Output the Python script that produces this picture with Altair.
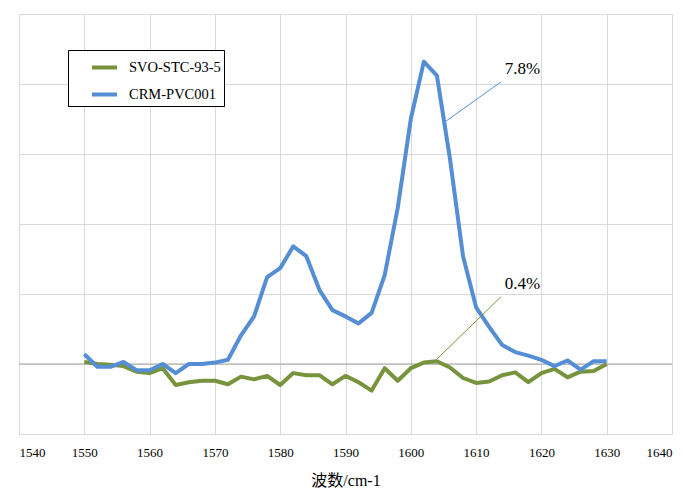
import altair as alt
import pandas as pd

# ---- data ----
wavenumber = [1550, 1552, 1554, 1556, 1558, 1560, 1562, 1564, 1566, 1568,
              1570, 1572, 1574, 1576, 1578, 1580, 1582, 1584, 1586, 1588,
              1590, 1592, 1594, 1596, 1598, 1600, 1602, 1604, 1606, 1608,
              1610, 1612, 1614, 1616, 1618, 1620, 1622, 1624, 1626, 1628, 1630]

svo_values = [0.03, 0.0, -0.01, -0.03, -0.11, -0.13, -0.06, -0.30, -0.26, -0.24,
              -0.24, -0.29, -0.18, -0.22, -0.17, -0.30, -0.13, -0.16, -0.16, -0.29,
              -0.17, -0.26, -0.38, -0.06, -0.24, -0.06, 0.02, 0.04, -0.05, -0.20,
              -0.27, -0.25, -0.16, -0.12, -0.26, -0.13, -0.07, -0.19, -0.11, -0.10, 0.0]

crm_values = [0.14, -0.04, -0.04, 0.03, -0.09, -0.09, 0.0, -0.13, 0.0, 0.0,
              0.02, 0.06, 0.41, 0.68, 1.24, 1.37, 1.68, 1.54, 1.06, 0.77,
              0.68, 0.58, 0.73, 1.27, 2.23, 3.50, 4.32, 4.12, 2.93, 1.54,
              0.81, 0.53, 0.27, 0.17, 0.12, 0.06, -0.03, 0.05, -0.08, 0.04, 0.04]

series_names = ["SVO-STC-93-5", "CRM-PVC001"]
series_colors = ["#77933C", "#558ED5"]

x_ticks = [1540, 1550, 1560, 1570, 1580, 1590, 1600, 1610, 1620, 1630, 1640]
y_grid = [-1, 0, 1, 2, 3, 4, 5]

ann_text = ["7.8%", "0.4%"]
ann_text_x = [1617.1, 1617.1]
ann_text_y = [4.22, 1.14]
ann_line_x = [1605.4, 1604.0]
ann_line_y = [3.47, 0.07]
ann_line_x2 = [1613.8, 1613.8]
ann_line_y2 = [4.03, 0.96]
ann_colors = ["#558ED5", "#77933C"]

SERIF = "Liberation Serif, 'Noto Sans CJK SC', serif"

# ---- tables ----
svo_df = pd.DataFrame({"x": wavenumber, "y": svo_values, "series": series_names[0]})
crm_df = pd.DataFrame({"x": wavenumber, "y": crm_values, "series": series_names[1]})
ann_df = pd.DataFrame({"label": ann_text, "tx": ann_text_x, "ty": ann_text_y,
                       "x": ann_line_x, "y": ann_line_y, "x2": ann_line_x2,
                       "y2": ann_line_y2, "c": ann_colors})

xscale = alt.Scale(domain=[1540, 1640], nice=False, zero=False)
yscale = alt.Scale(domain=[-1, 5], nice=False, zero=False)

color = alt.Color(
    "series:N",
    scale=alt.Scale(domain=series_names, range=series_colors),
    sort=series_names,
    legend=alt.Legend(
        title=None, orient="none", legendX=49, legendY=36,
        strokeColor="black", fillColor="white", padding=3,
        symbolType="stroke", symbolSize=625, symbolStrokeWidth=4,
        symbolOffset=19, labelFont=SERIF, labelFontSize=14.5,
        labelColor="#000000", labelOffset=10, rowPadding=4,
    ),
)

xaxis = alt.Axis(values=x_ticks, format="d", grid=True, gridColor="#d9d9d9", ticks=False,
                 domain=False, labelFont=SERIF, labelFontSize=13,
                 labelColor="#000000", labelPadding=12, title="波数/cm-1",
                 titleFont=SERIF, titleFontSize=16, titleFontWeight="normal",
                 titleColor="#000000", titlePadding=13)
yaxis = alt.Axis(values=y_grid, grid=True, gridColor="#d9d9d9", ticks=False,
                 domain=False, labels=False, title=None)

base_x = alt.X("x:Q", scale=xscale, axis=xaxis)

zero_rule = alt.Chart(pd.DataFrame({"y": [0]})).mark_rule(
    color="#a6a6a6", strokeWidth=1.2
).encode(y=alt.Y("y:Q", scale=yscale, axis=yaxis))

svo_line = alt.Chart(svo_df).mark_line(strokeWidth=4, strokeJoin="round").encode(
    x=base_x, y=alt.Y("y:Q", scale=yscale, axis=yaxis), color=color)

crm_line = alt.Chart(crm_df).mark_line(strokeWidth=4, strokeJoin="round").encode(
    x=base_x, y=alt.Y("y:Q", scale=yscale, axis=yaxis), color=color)

leaders = alt.Chart(ann_df).mark_rule(strokeWidth=1).encode(
    x=alt.X("x:Q", scale=xscale), y=alt.Y("y:Q", scale=yscale),
    x2="x2:Q", y2="y2:Q", color=alt.Color("c:N", scale=None, legend=None))

labels = alt.Chart(ann_df).mark_text(font=SERIF, fontSize=17, color="#000000").encode(
    x=alt.X("tx:Q", scale=xscale), y=alt.Y("ty:Q", scale=yscale), text="label:N")

chart = alt.layer(zero_rule, svo_line, crm_line, leaders, labels).resolve_scale(
    color="independent"
).properties(
    width=653, height=420,
    autosize=alt.AutoSizeParams(type="none"),
    padding={"left": 11, "top": 6, "right": 3, "bottom": 58},
).configure_view(stroke="#d9d9d9").configure(background="white")

chart.save("out.html", embed_options={"renderer": "svg", "actions": False})
